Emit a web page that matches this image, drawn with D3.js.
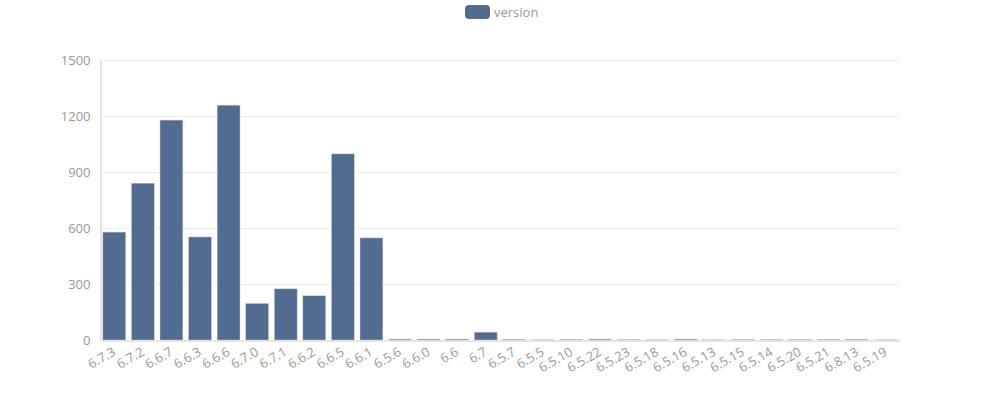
<!DOCTYPE html>
<html><head><meta charset="utf-8">
<script src="https://cdn.jsdelivr.net/npm/d3@7"></script>
<style>html,body{margin:0;padding:0;background:#fff}</style>
</head><body>
<svg id="c" width="1000" height="400"></svg>
<script>
const categories = ["6.7.3","6.7.2","6.6.7","6.6.3","6.6.6","6.7.0","6.7.1","6.6.2","6.6.5","6.6.1","6.5.6","6.6.0","6.6","6.7","6.5.7","6.5.5","6.5.10","6.5.22","6.5.23","6.5.18","6.5.16","6.5.13","6.5.15","6.5.14","6.5.20","6.5.21","6.8.13","6.5.19"];
const versionValues = [578,840,1178,552,1258,196,274,237,997,547,5,5,5,42,4,1,3,5,2,1,5,1,2,2,2,3,4,1];
const yTicks = [0,300,600,900,1200,1500];
const seriesName = "version";

const font = "'Open Sans','Noto Sans',sans-serif";
const svg = d3.select("#c");
const L=100, R=900, T=60, B=340;
const xc = d3.scaleBand().domain(categories).range([L,R]);
const y = d3.scaleLinear().domain([0,1500]).range([B,T]);

// grid lines
svg.append("g").selectAll("line").data(yTicks.filter(d=>d>0)).join("line")
  .attr("x1",L).attr("x2",R).attr("y1",d=>y(d)+0.5).attr("y2",d=>y(d)+0.5)
  .attr("stroke","#eeeeee");

// y axis
const ya = svg.append("g").attr("transform",`translate(${L+0.5},0)`)
  .call(d3.axisLeft(y).tickValues(yTicks).tickFormat(d3.format("d")).tickSize(0).tickPadding(10));
ya.select(".domain").attr("stroke","#cccccc");
ya.selectAll("text").attr("fill","#999999").style("font-family",font).style("font-size","13px");

// bars
const cw = xc.bandwidth();
const bw = cw*0.8;
svg.append("g").selectAll("rect").data(versionValues).join("rect")
  .attr("x",(d,i)=>xc(categories[i])+cw*0.1)
  .attr("width",bw)
  .attr("y",d=>y(d))
  .attr("height",d=>B-y(d))
  .attr("fill","#516b91")
  .attr("stroke","#cccccc").attr("stroke-width",0.5);

// x axis
const xa = svg.append("g").attr("transform",`translate(0,${B+0.5})`)
  .call(d3.axisBottom(xc).tickSize(0).tickPadding(0));
xa.select(".domain").attr("stroke","#cccccc");
xa.selectAll("text")
  .attr("fill","#999999").style("font-family",font).style("font-size","13px")
  .attr("text-anchor","end").attr("y",0).attr("dy","0.35em")
  .attr("transform","translate(0,10) rotate(-30)");

// legend
const lg = svg.append("g");
lg.append("rect").attr("x",465).attr("y",5).attr("width",25).attr("height",14).attr("rx",4)
  .attr("fill","#516b91");
lg.append("text").attr("x",494).attr("y",12).attr("dy","0.35em").text(seriesName)
  .attr("fill","#999999").style("font-family",font).style("font-size","13px");
</script>
</body></html>
